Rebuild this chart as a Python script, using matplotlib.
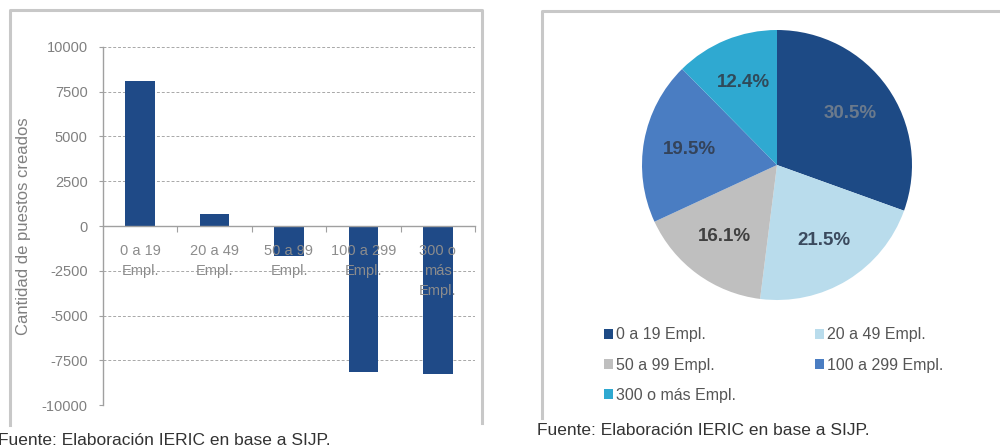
import numpy as np
import matplotlib.pyplot as plt
from matplotlib.lines import Line2D
from matplotlib.patches import Patch

plt.rcParams['font.family'] = ['Liberation Sans', 'DejaVu Sans']
plt.rcParams['axes.unicode_minus'] = False

# datos: puestos creados por tamano de empresa
categorias = ["0 a 19\nEmpl.", "20 a 49\nEmpl.", "50 a 99\nEmpl.", "100 a 299\nEmpl.", "300 o\nmás\nEmpl."]
puestos = [8100, 650, -1700, -8150, -8250]
y_ticks = [10000, 7500, 5000, 2500, 0, -2500, -5000, -7500, -10000]

pie_labels = ["0 a 19 Empl.", "20 a 49 Empl.", "50 a 99 Empl.", "100 a 299 Empl.", "300 o más Empl."]
pie_vals = [30.5, 21.5, 16.1, 19.5, 12.4]
pie_colors = ["#1d4a85", "#b9dcec", "#bfbfbf", "#4a7dc2", "#2fa9d1"]
pct_colors = ["#6b7a8c", "#3b4a5e", "#404040", "#34435a", "#2f4a5a"]

fuente = "Fuente: Elaboración IERIC en base a SIJP."

W, H = 1000, 448
fig = plt.figure(figsize=(10, 4.48), dpi=100)
fig.patch.set_facecolor("white")

# marcos grises
frame = "#c8c8c8"
for xs, ys in [([10, 10, 482, 482], [425, 10, 10, 423]),
               ([542, 542, 1000], [418, 11, 11])]:
    fig.add_artist(Line2D([x / W for x in xs], [1 - y / H for y in ys],
                          color=frame, lw=2.2, transform=fig.transFigure))

# ---- barras ----
ax = fig.add_axes([103 / W, 43 / H, 372 / W, 358 / H])
x = list(range(len(categorias)))
ax.set_axisbelow(True)
ax.bar(x, puestos, width=0.4, color="#1f4a87", zorder=2)
ax.set_xlim(-0.5, len(categorias) - 0.5)
ax.set_ylim(-10000, 10000)
ax.set_yticks(y_ticks)
ax.yaxis.grid(True, linestyle=(0, (3, 2)), color="#a8a8a8", lw=0.7)
ax.spines['top'].set_visible(False)
ax.spines['right'].set_visible(False)
ax.spines['bottom'].set_position(('data', 0))
for s in ['left', 'bottom']:
    ax.spines[s].set_color("#a0a0a0")
    ax.spines[s].set_linewidth(1.0)
ax.set_xticks([i + 0.5 for i in x])
ax.set_xticklabels([])
ax.tick_params(axis='x', direction='out', length=4, color="#a0a0a0")
ax.tick_params(axis='y', direction='out', length=3, color="#a0a0a0",
               labelcolor="#808080", labelsize=10.5, pad=8)
for i, lab in enumerate(categorias):
    ax.text(i, 0.45, lab, transform=ax.get_xaxis_transform(), ha='center', va='top',
            fontsize=10.5, color="#8c8c8c", linespacing=1.55, zorder=5)
ax.set_ylabel("Cantidad de puestos creados", fontsize=12, color="#808080", labelpad=8)

fig.text(-0.002, 1 - 440 / H, fuente, fontsize=12.5, color="#333333", va='center', ha='left')

# ---- torta ----
r = 135
axp = fig.add_axes([(777 - r) / W, (H - 165 - r) / H, 2 * r / W, 2 * r / H])
wedges, texts = axp.pie(pie_vals, colors=pie_colors, startangle=90, counterclock=False,
                        wedgeprops=dict(linewidth=0))
axp.set_xlim(-1, 1)
axp.set_ylim(-1, 1)
for w, v, c in zip(wedges, pie_vals, pct_colors):
    ang = np.deg2rad((w.theta1 + w.theta2) / 2)
    axp.text(0.66 * np.cos(ang), 0.66 * np.sin(ang), f"{v:.1f}%", ha='center', va='center',
             fontsize=13.5, fontweight='bold', color=c)

orden = [0, 2, 4, 1, 3]
handles = [Patch(facecolor=pie_colors[i], edgecolor='none') for i in orden]
fig.legend(handles, [pie_labels[i] for i in orden], ncol=2, frameon=False,
           loc='upper left', bbox_to_anchor=(590 / W, 1 - 313 / H),
           fontsize=11.5, handlelength=0.55, handleheight=0.55, handletextpad=0.15,
           labelspacing=0.95, columnspacing=5.0, labelcolor="#555555")

fig.text(537 / W, 1 - 430 / H, fuente, fontsize=12.5, color="#333333", va='center', ha='left')

fig.savefig("out.png", dpi=100)
